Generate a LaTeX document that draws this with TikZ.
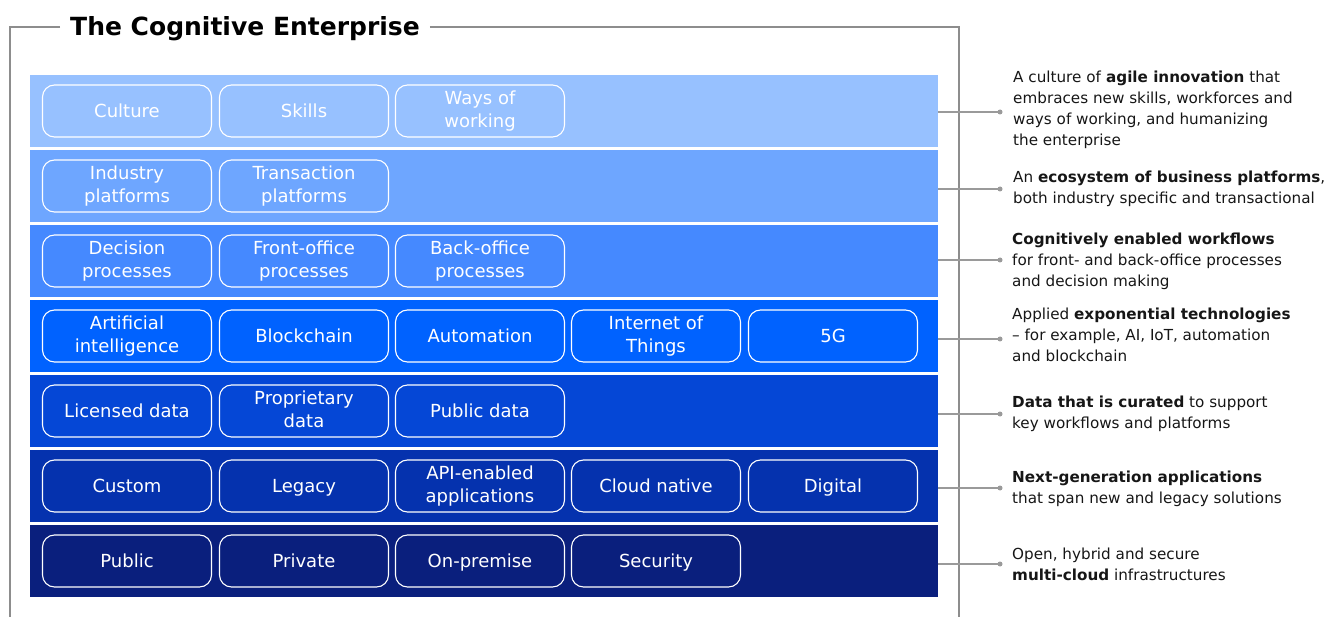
\documentclass[tikz,border=0pt]{standalone}
\usepackage{fontspec}
\setmainfont{DejaVu Sans}
\definecolor{bandA}{HTML}{97C1FF}
\definecolor{bandB}{HTML}{6EA6FF}
\definecolor{bandC}{HTML}{4589FF}
\definecolor{bandD}{HTML}{0062FF}
\definecolor{bandE}{HTML}{0547D6}
\definecolor{bandF}{HTML}{0532AE}
\definecolor{bandG}{HTML}{0A1F7D}
\definecolor{linegray}{HTML}{9A9A9A}
\definecolor{framegray}{HTML}{8D8D8D}
\definecolor{txt}{HTML}{161616}
\begin{document}
\begin{tikzpicture}[x=1pt,y=-1pt,
  band/.style={draw=none, minimum width=908pt, minimum height=72pt, inner sep=0pt, anchor=west},
  pill/.style={draw=white, line width=1.1pt, rounded corners=12pt, minimum width=169pt, minimum height=52pt, align=center, text=white, font=\fontsize{18}{23}\selectfont, inner sep=0pt, execute at begin node=\strut, execute at end node=\strut},
  ptext/.style={align=center, text=white, font=\fontsize{18}{23}\selectfont, inner sep=0pt, execute at begin node=\strut, execute at end node=\strut, yshift=-2pt},
  conn/.style={draw=linegray, line width=1.3pt},
  dot/.style={circle, fill=linegray, inner sep=0pt, minimum size=5pt},
  desc/.style={anchor=west, align=left, inner sep=0pt, text=txt, font=\fontsize{15.2}{21}\selectfont, execute at begin node=\strut, execute at end node=\strut, yshift=-2pt},
  framel/.style={draw=framegray, line width=1.2pt},
]
\useasboundingbox (0,0) rectangle (1341,617);

% frame and title
\node[anchor=base, inner xsep=10pt, inner ysep=0pt, font=\fontsize{25}{28}\selectfont\bfseries, text=black] (title) at (245,36) {The Cognitive Enterprise};
\coordinate (ftl) at (10,27);
\coordinate (fbl) at (10,617);
\coordinate (ftr) at (959,27);
\coordinate (fbr) at (959,617);
\draw[framel] (title.west |- ftl) -- (ftl) -- (fbl);
\draw[framel] (title.east |- ftr) -- (ftr) -- (fbr);

% bands
\node[band, fill=bandA] (b1) at (30,111) {};
\node[band, fill=bandB] (b2) at (30,186) {};
\node[band, fill=bandC] (b3) at (30,261) {};
\node[band, fill=bandD] (b4) at (30,336) {};
\node[band, fill=bandE] (b5) at (30,411) {};
\node[band, fill=bandF] (b6) at (30,486) {};
\node[band, fill=bandG] (b7) at (30,561) {};

% pills (box and label)
\foreach \n/\x/\y/\t in {
  p11/127/111/{Culture}, p12/304/111/{Skills}, p13/480/111/{Ways of\\working},
  p21/127/186/{Industry\\platforms}, p22/304/186/{Transaction\\platforms},
  p31/127/261/{Decision\\processes}, p32/304/261/{Front-office\\processes}, p33/480/261/{Back-office\\processes},
  p41/127/336/{Artificial\\intelligence}, p42/304/336/{Blockchain}, p43/480/336/{Automation}, p44/656/336/{Internet of\\Things}, p45/833/336/{5G},
  p51/127/411/{Licensed data}, p52/304/411/{Proprietary\\data}, p53/480/411/{Public data},
  p61/127/486/{Custom}, p62/304/486/{Legacy}, p63/480/486/{API-enabled\\applications}, p64/656/486/{Cloud native}, p65/833/486/{Digital},
  p71/127/561/{Public}, p72/304/561/{Private}, p73/480/561/{On-premise}, p74/656/561/{Security}}{
  \node[pill] (\n) at (\x,\y) {};
  \node[ptext] (\n t) at (\n.center) {\t};
}

% connectors
\foreach \i/\y in {1/112,2/189,3/260,4/339,5/414,6/488,7/564}{
  \coordinate (d\i) at (1000,\y);
  \draw[conn] (b\i.east |- d\i) -- (d\i);
  \node[dot] at (d\i) {};
}

% descriptions
\node[desc] (t1) at (1013,109.3) {A culture of \textbf{agile innovation} that\\embraces new skills, workforces and\\ways of working, and humanizing\\the enterprise};
\node[desc] (t2) at (1013,188.5) {An \textbf{ecosystem of business platforms},\\both industry specific and transactional};
\node[desc] (t3) at (1012,261.3) {\textbf{Cognitively enabled workflows}\\for front- and back-office processes\\and decision making};
\node[desc] (t4) at (1012,336) {Applied \textbf{exponential technologies}\\– for example, AI, IoT, automation\\and blockchain};
\node[desc] (t5) at (1012,413.5) {\textbf{Data that is curated} to support\\key workflows and platforms};
\node[desc] (t6) at (1012,488.5) {\textbf{Next-generation applications}\\that span new and legacy solutions};
\node[desc] (t7) at (1012,565.5) {Open, hybrid and secure\\\textbf{multi-cloud} infrastructures};
\end{tikzpicture}
\end{document}
